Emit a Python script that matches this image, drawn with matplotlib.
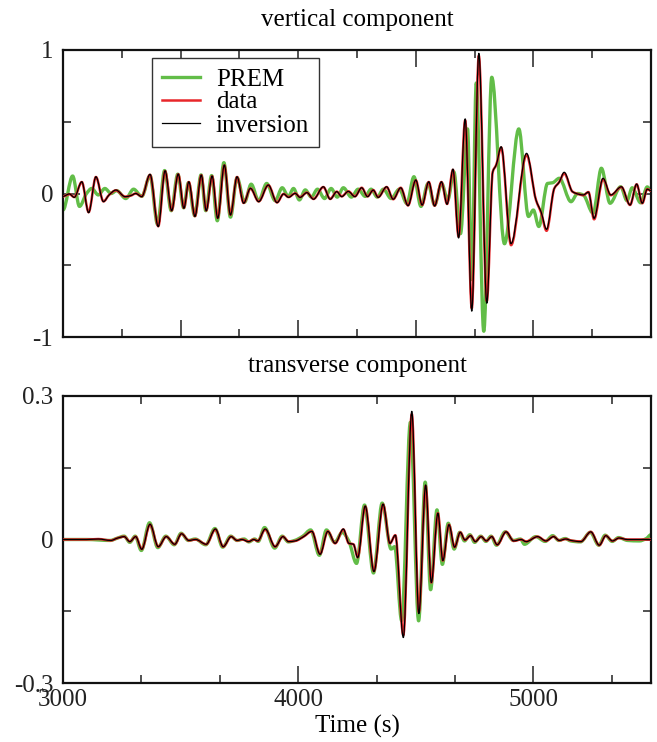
import matplotlib
matplotlib.use("Agg")
import matplotlib.pyplot as plt
from matplotlib.ticker import MultipleLocator, FixedFormatter, FixedLocator
from matplotlib.path import Path
from matplotlib.patches import PathPatch
from matplotlib.lines import Line2D

# ---------------- data: vertical component ----------------
v_inv_t = [3000, 3027, 3048, 3080, 3109, 3140, 3172, 3196, 3225, 3264, 3288, 3309, 3335,
           3370, 3405, 3434, 3462, 3490, 3514, 3535, 3561, 3588, 3609, 3634, 3658, 3686,
           3712, 3740, 3768, 3797, 3832, 3873, 3910, 3938, 3959, 3987, 4008, 4037, 4065,
           4107, 4136, 4164, 4185, 4213, 4241, 4270, 4295, 4319, 4340, 4376, 4404, 4436,
           4467, 4500, 4527, 4555, 4580, 4609, 4633, 4658, 4682, 4710, 4738, 4768, 4802,
           4827, 4842, 4863, 4905, 4971, 5011, 5033, 5056, 5089, 5110, 5131, 5166, 5195,
           5212, 5234, 5258, 5296, 5329, 5374, 5411, 5439, 5463, 5484, 5500]
v_inv_a = [-0.02, -0.003, -0.027, 0.082, -0.134, 0.117, -0.057, -0.01, 0.024, -0.022, -0.015,
           0.0, -0.022, 0.134, -0.231, 0.159, -0.12, 0.136, -0.103, 0.082, -0.16, 0.129,
           -0.12, 0.122, -0.173, 0.199, -0.15, 0.117, -0.068, 0.036, -0.057, 0.059, -0.064,
           -0.003, -0.027, 0.001, -0.027, 0.006, -0.04, 0.047, -0.04, 0.013, -0.022, 0.015,
           -0.022, 0.04, -0.022, 0.024, -0.027, 0.047, -0.04, 0.04, -0.085, 0.094, -0.08,
           0.082, -0.087, 0.082, -0.075, 0.17, -0.31, 0.52, -0.82, 0.977, -0.765, 0.15, 0.2,
           0.326, -0.35, 0.28, -0.045, -0.13, -0.25, 0.036, 0.08, 0.148, 0.013, -0.006,
           -0.01, 0.01, -0.173, 0.106, -0.01, 0.047, -0.08, 0.066, -0.068, 0.03, 0.02]

v_dat_t = [3000, 3027, 3048, 3080, 3109, 3140, 3172, 3196, 3225, 3264, 3288, 3309, 3335,
           3370, 3405, 3434, 3462, 3490, 3514, 3535, 3561, 3588, 3609, 3634, 3658, 3686,
           3712, 3740, 3768, 3797, 3832, 3873, 3910, 3938, 3959, 3987, 4008, 4037, 4065,
           4107, 4136, 4164, 4185, 4213, 4241, 4270, 4295, 4319, 4340, 4376, 4404, 4436,
           4467, 4500, 4527, 4555, 4580, 4609, 4633, 4658, 4682, 4710, 4738, 4768, 4802,
           4827, 4842, 4863, 4905, 4971, 5011, 5033, 5056, 5089, 5110, 5131, 5166, 5195,
           5212, 5234, 5258, 5296, 5329, 5374, 5411, 5439, 5463, 5484, 5500]
v_dat_a = [-0.02, -0.005, -0.025, 0.08, -0.13, 0.115, -0.055, -0.01, 0.022, -0.022, -0.015,
           0.0, -0.02, 0.13, -0.228, 0.156, -0.118, 0.134, -0.1, 0.08, -0.158, 0.127,
           -0.118, 0.12, -0.17, 0.196, -0.148, 0.115, -0.066, 0.035, -0.055, 0.058, -0.062,
           -0.003, -0.025, 0.001, -0.025, 0.006, -0.038, 0.045, -0.038, 0.013, -0.02, 0.015,
           -0.02, 0.04, -0.02, 0.024, -0.025, 0.045, -0.04, 0.04, -0.083, 0.092, -0.08,
           0.08, -0.085, 0.08, -0.073, 0.165, -0.3, 0.51, -0.8, 0.96, -0.75, 0.15, 0.2,
           0.32, -0.36, 0.27, -0.045, -0.135, -0.26, 0.036, 0.08, 0.14, 0.013, -0.006,
           -0.012, 0.01, -0.18, 0.1, -0.012, 0.045, -0.08, 0.064, -0.068, 0.03, 0.02]

v_prem_t = [3000, 3041, 3070, 3100, 3122, 3150, 3178, 3205, 3228, 3267, 3300, 3335, 3370,
            3402, 3432, 3460, 3488, 3513, 3533, 3560, 3587, 3607, 3632, 3656, 3684, 3712,
            3740, 3772, 3800, 3832, 3866, 3902, 3932, 3958, 3980, 4005, 4030, 4056, 4082,
            4112, 4140, 4166, 4192, 4226, 4255, 4285, 4310, 4336, 4362, 4395, 4430, 4462,
            4492, 4522, 4552, 4580, 4610, 4636, 4662, 4690, 4720, 4738, 4757, 4789, 4823,
            4877, 4938, 4979, 5000, 5023, 5060, 5082, 5110, 5160, 5188, 5212, 5254, 5289,
            5326, 5371, 5398, 5420, 5456, 5484, 5500]
v_prem_a = [-0.115, 0.122, -0.09, 0.0, 0.035, -0.01, 0.035, 0.0, 0.02, -0.035, 0.03, -0.02,
            0.125, -0.215, 0.16, -0.12, 0.135, -0.1, 0.075, -0.155, 0.13, -0.12, 0.125,
            -0.19, 0.215, -0.165, 0.11, -0.06, 0.065, -0.05, 0.07, -0.05, 0.04, -0.02, 0.035,
            -0.045, 0.025, -0.025, 0.03, -0.035, 0.035, -0.025, 0.04, -0.025, 0.03, -0.02,
            0.03, -0.025, 0.03, -0.035, 0.03, -0.07, 0.117, -0.09, 0.07, -0.08, 0.07, -0.045,
            0.15, -0.28, 0.45, -0.6, 0.77, -0.96, 0.81, -0.35, 0.45, -0.16, -0.115, -0.23,
            0.07, 0.075, 0.106, -0.057, 0.0, -0.01, -0.138, 0.176, -0.068, 0.047, -0.05,
            0.04, -0.065, 0.046, 0.02]

# ---------------- data: transverse component ----------------
t_inv_t = [3000, 3100, 3150, 3203, 3232, 3260, 3284, 3309, 3335, 3370, 3405, 3439, 3475,
           3504, 3535, 3564, 3609, 3648, 3681, 3715, 3740, 3761, 3789, 3811, 3828, 3860,
           3902, 3935, 3959, 3987, 4023, 4058, 4093, 4126, 4157, 4192, 4215, 4235, 4253,
           4285, 4322, 4361, 4390, 4413, 4447, 4483, 4513, 4542, 4566, 4594, 4615, 4641,
           4665, 4689, 4709, 4733, 4753, 4778, 4800, 4823, 4846, 4884, 4916, 4948, 4969,
           5018, 5053, 5086, 5110, 5138, 5160, 5202, 5244, 5280, 5308, 5336, 5364, 5400,
           5500]
t_inv_a = [0.0, 0.0, 0.001, -0.002, 0.003, 0.006, -0.0045, 0.006, -0.0205, 0.032, -0.015,
           0.006, -0.01, 0.012, -0.002, 0.0, -0.01, 0.022, -0.015, 0.006, -0.002, 0.0,
           -0.0045, 0.0, -0.003, 0.022, -0.015, 0.006, -0.0045, -0.003, 0.006, 0.017,
           -0.031, 0.017, -0.008, 0.022, -0.008, -0.01, -0.038, 0.07, -0.067, 0.074,
           -0.008, 0.009, -0.205, 0.268, -0.155, 0.114, -0.09, 0.055, -0.044, 0.031,
           -0.016, 0.015, -0.001, 0.008, -0.0045, 0.006, -0.003, 0.006, -0.011, 0.016,
           -0.003, 0.0, -0.0045, 0.006, -0.003, 0.006, -0.002, 0.001, -0.002, -0.0045,
           0.016, -0.012, 0.008, -0.003, 0.003, 0.0, 0.0]

t_dat_t = [3000, 3100, 3150, 3203, 3232, 3260, 3284, 3309, 3335, 3370, 3405, 3439, 3475,
           3504, 3535, 3564, 3609, 3648, 3681, 3715, 3740, 3761, 3789, 3811, 3828, 3860,
           3902, 3935, 3959, 3987, 4023, 4058, 4093, 4126, 4157, 4192, 4215, 4235, 4253,
           4285, 4322, 4361, 4390, 4413, 4447, 4483, 4513, 4542, 4566, 4594, 4615, 4641,
           4665, 4689, 4709, 4733, 4753, 4778, 4800, 4823, 4846, 4884, 4916, 4948, 4969,
           5018, 5053, 5086, 5110, 5138, 5160, 5202, 5244, 5280, 5308, 5336, 5364, 5400,
           5500]
t_dat_a = [0.0, 0.0, 0.001, -0.002, 0.003, 0.006, -0.004, 0.006, -0.02, 0.031, -0.015,
           0.006, -0.01, 0.012, -0.002, 0.0, -0.01, 0.021, -0.015, 0.006, -0.002, 0.0,
           -0.004, 0.0, -0.003, 0.021, -0.015, 0.006, -0.004, -0.003, 0.006, 0.017,
           -0.03, 0.017, -0.008, 0.021, -0.008, -0.01, -0.037, 0.069, -0.066, 0.073,
           -0.008, 0.009, -0.2, 0.262, -0.152, 0.112, -0.09, 0.055, -0.044, 0.031,
           -0.016, 0.015, -0.001, 0.008, -0.004, 0.006, -0.003, 0.006, -0.011, 0.016,
           -0.003, 0.0, -0.004, 0.006, -0.003, 0.006, -0.002, 0.001, -0.002, -0.004,
           0.016, -0.012, 0.008, -0.003, 0.003, 0.0, 0.0]

t_prem_t = [3000, 3100, 3200, 3232, 3260, 3284, 3307, 3333, 3368, 3403, 3437, 3473, 3502,
            3533, 3562, 3607, 3646, 3679, 3713, 3740, 3770, 3790, 3815, 3830, 3857, 3900,
            3932, 3958, 3985, 4020, 4053, 4090, 4120, 4155, 4187, 4215, 4248, 4282, 4320,
            4357, 4395, 4410, 4440, 4477, 4512, 4540, 4563, 4590, 4613, 4638, 4663, 4687,
            4707, 4730, 4750, 4776, 4798, 4820, 4843, 4880, 4915, 4945, 4962, 5010, 5050,
            5082, 5108, 5135, 5158, 5200, 5242, 5278, 5305, 5335, 5362, 5400, 5450, 5480,
            5500]
t_prem_a = [0.0, 0.0, -0.002, 0.003, 0.007, -0.006, 0.007, -0.023, 0.035, -0.017, 0.007,
            -0.011, 0.013, -0.002, 0.001, -0.011, 0.023, -0.016, 0.007, -0.002, 0.001,
            -0.005, 0.001, -0.004, 0.025, -0.018, 0.007, -0.005, -0.002, 0.007, 0.02,
            -0.033, 0.02, -0.006, 0.015, -0.003, -0.05, 0.072, -0.07, 0.076, -0.02, -0.015,
            -0.17, 0.245, -0.17, 0.12, -0.105, 0.062, -0.052, 0.034, -0.02, 0.015, -0.003,
            0.01, -0.006, 0.007, -0.004, 0.007, -0.012, 0.016, -0.002, 0.001, -0.01, 0.006,
            -0.004, 0.008, -0.002, 0.002, -0.003, -0.005, 0.015, -0.012, 0.009, -0.004,
            0.004, -0.002, -0.003, 0.002, 0.01]

series_labels = ["PREM", "data", "inversion"]
panel_titles = ["vertical component", "transverse component"]
v_yticks = [-1, 0, 1]
v_yticklabels = ["-1", "0", "1"]
t_yticks = [-0.3, 0, 0.3]
t_yticklabels = ["-0.3", "0", "0.3"]
x_ticks = [3000, 4000, 5000]
x_ticklabels = ["3000", "4000", "5000"]

# ---------------- style ----------------
plt.rcParams['font.family'] = ['Liberation Serif', 'DejaVu Serif']
FS = 18
GREEN = '#62bd48'
RED = '#e8262a'
BLACK = '#000000'
LW = {'prem': 2.4, 'data': 1.8, 'inv': 0.9}


def smooth_path(t, a):
    """Smooth (monotone cubic Bezier) path through the read points."""
    n = len(t)
    d = [(a[i + 1] - a[i]) / (t[i + 1] - t[i]) for i in range(n - 1)]
    m = [0.0] * n
    for i in range(1, n - 1):
        if d[i - 1] * d[i] <= 0:
            m[i] = 0.0
        else:
            h0 = t[i] - t[i - 1]
            h1 = t[i + 1] - t[i]
            w1 = 2 * h1 + h0
            w2 = h1 + 2 * h0
            m[i] = (w1 + w2) / (w1 / d[i - 1] + w2 / d[i])
    verts = [(t[0], a[0])]
    codes = [Path.MOVETO]
    for i in range(n - 1):
        h = t[i + 1] - t[i]
        verts += [(t[i] + h / 3, a[i] + m[i] * h / 3),
                  (t[i + 1] - h / 3, a[i + 1] - m[i + 1] * h / 3),
                  (t[i + 1], a[i + 1])]
        codes += [Path.CURVE4] * 3
    return Path(verts, codes)


def draw_trace(ax, t, a, color, lw, z):
    patch = PathPatch(smooth_path(t, a), facecolor='none', edgecolor=color,
                      linewidth=lw, joinstyle='round', capstyle='round',
                      transform=ax.transData, zorder=z)
    patch.set_clip_path(ax.patch)
    ax.add_patch(patch)


fig = plt.figure(figsize=(6.57, 7.42), dpi=100)
ax1 = fig.add_axes([63/657, 1-337/742, 588/657, 287/742])
ax2 = fig.add_axes([63/657, 1-683/742, 588/657, 287/742])


def style(ax):
    ax.tick_params(which='both', direction='in', top=True, right=True,
                   labelsize=FS, width=1.1, colors='#222222')
    ax.tick_params(which='major', length=12, pad=7)
    ax.tick_params(which='minor', length=6)
    ax.tick_params(axis='x', which='major', pad=4)
    for s in ax.spines.values():
        s.set_linewidth(1.6)
        s.set_color('#111111')
    ax.set_xlim(3000, 5500)


for ax, (pt, pa, dt, da, it, ia) in zip(
        [ax1, ax2],
        [(v_prem_t, v_prem_a, v_dat_t, v_dat_a, v_inv_t, v_inv_a),
         (t_prem_t, t_prem_a, t_dat_t, t_dat_a, t_inv_t, t_inv_a)]):
    draw_trace(ax, pt, pa, GREEN, LW['prem'], 2)
    draw_trace(ax, dt, da, RED, LW['data'], 3)
    draw_trace(ax, it, ia, BLACK, LW['inv'], 4)
    style(ax)

ax1.set_ylim(-1, 1)
ax1.yaxis.set_major_locator(FixedLocator(v_yticks))
ax1.yaxis.set_major_formatter(FixedFormatter(v_yticklabels))
ax1.yaxis.set_minor_locator(MultipleLocator(0.5))
ax1.xaxis.set_major_locator(MultipleLocator(500))
ax1.xaxis.set_minor_locator(MultipleLocator(250))
ax1.tick_params(axis='x', labelbottom=False)

ax2.set_ylim(-0.3, 0.3)
ax2.yaxis.set_major_locator(FixedLocator(t_yticks))
ax2.yaxis.set_major_formatter(FixedFormatter(t_yticklabels))
ax2.yaxis.set_minor_locator(MultipleLocator(0.15))
ax2.xaxis.set_major_locator(FixedLocator(x_ticks))
ax2.xaxis.set_major_formatter(FixedFormatter(x_ticklabels))
ax2.xaxis.set_minor_locator(FixedLocator([3000 + 1000 * k / 3 for k in range(8)]))

ax1.set_title(panel_titles[0], fontsize=FS, pad=17)
ax2.set_title(panel_titles[1], fontsize=FS, pad=17)
ax2.set_xlabel("Time (s)", fontsize=FS, labelpad=3)

handles = [Line2D([], [], color=GREEN, lw=LW['prem']),
           Line2D([], [], color=RED, lw=LW['data']),
           Line2D([], [], color=BLACK, lw=LW['inv'])]
leg = ax1.legend(handles, series_labels, loc='upper left',
                 bbox_to_anchor=(89/588, 1-8/287),
                 borderaxespad=0, fontsize=FS, frameon=True, fancybox=False,
                 framealpha=1, edgecolor='#333333', handlelength=1.5,
                 handletextpad=0.65, labelspacing=0.02, borderpad=0.4)
leg.get_frame().set_linewidth(1.0)
leg.set_zorder(10)

fig.savefig("out.png", dpi=100)
